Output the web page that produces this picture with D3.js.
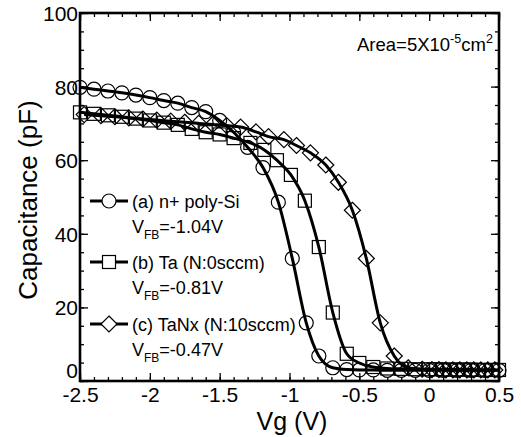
<!DOCTYPE html>
<html><head><meta charset="utf-8">
<script src="https://cdn.jsdelivr.net/npm/d3@7"></script>
<style>
html,body{margin:0;padding:0;background:#fff;}
svg{display:block;font-family:"Liberation Sans",Arial,sans-serif;}
</style></head>
<body><svg id="c" width="521" height="437"></svg>
<script>
// ---- data ----
const aV = [-2.5,-2.4,-2.3,-2.2,-2.1,-2.0,-1.9,-1.8,-1.7,-1.6,-1.5,-1.4,-1.3,-1.19,-1.08,-0.98,-0.88,-0.79,-0.69,-0.59,-0.5,-0.4,-0.3,-0.2,-0.1,0,0.1,0.2,0.3,0.4,0.5];
const aC = [79.8,79.3,78.8,78.3,77.7,77.0,76.2,75.5,74.3,73.2,70.8,67.6,63.5,58.0,48.6,33.3,15.8,6.8,3.6,3.1,3.0,3.0,2.9,2.9,2.9,2.9,2.9,2.9,2.9,2.9,2.9];

const bV = [-2.5,-2.4,-2.3,-2.2,-2.1,-2.0,-1.9,-1.8,-1.7,-1.6,-1.5,-1.4,-1.28,-1.18,-1.09,-0.99,-0.89,-0.79,-0.69,-0.59,-0.5,-0.4,-0.3,-0.2,-0.1,0,0.05,0.1,0.15,0.2,0.25,0.3,0.35,0.4,0.45,0.5];
const bC = [73.0,72.6,72.2,71.8,71.3,70.8,70.2,69.6,68.5,67.6,67.0,66.0,64.7,62.8,60.0,56.0,49.0,36.4,18.6,7.4,4.9,3.8,3.4,3.3,3.2,3.2,3.2,3.1,3.1,3.1,3.1,3.1,3.0,3.0,3.0,3.0];

const cV = [-2.47,-2.35,-2.25,-2.15,-2.05,-1.95,-1.85,-1.75,-1.65,-1.55,-1.45,-1.35,-1.24,-1.15,-1.04,-0.95,-0.85,-0.74,-0.65,-0.55,-0.45,-0.35,-0.25,-0.15,-0.05,0.02,0.07,0.12,0.17,0.22,0.27,0.32,0.37,0.42,0.47];
const cC = [72.4,72.1,71.8,71.5,71.2,70.9,70.6,70.3,70.0,69.7,69.4,69.0,67.7,66.4,65.6,64.0,62.0,58.7,54.0,46.4,33.3,15.8,6.8,3.6,3.2,3.1,3.1,3.0,3.0,3.0,3.0,3.0,3.0,3.0,3.0];

const seriesNames = ["(a) n+ poly-Si","(b) Ta (N:0sccm)","(c) TaNx (N:10sccm)"];
const vfbLabels = ["=-1.04V","=-0.81V","=-0.47V"];
const xTickVals = [-2.5,-2,-1.5,-1,-0.5,0,0.5];
const xTickLabels = ["-2.5","-2","-1.5","-1","-0.5","0","0.5"];
const yTickVals = [0,20,40,60,80,100];
const yTickLabels = ["0","20","40","60","80","100"];

// ---- layout ----
const L=80,R=499,T=13,B=381;
const svg=d3.select("#c");
const x=d3.scaleLinear().domain([-2.5,0.5]).range([L,R]);
const y=d3.scaleLinear().domain([0,100]).range([B,T]);

// minor ticks
const xMinor=d3.range(-2.5,0.5001,0.1).map(v=>+v.toFixed(2));
const yMinor=d3.range(0,100.001,5);

function tickAxis(gen, scale, vals, size, pos, labels){
  const a=gen(scale).tickValues(vals).tickSizeInner(size).tickSizeOuter(0);
  if(labels){ a.tickFormat((d,i)=>labels[i]).tickPadding(0);} else a.tickFormat("");
  const g=svg.append("g").attr("transform",pos).call(a);
  g.select(".domain").remove();
  g.selectAll("line").attr("stroke","#000").attr("stroke-width",1.3);
  return g;
}
// bottom
tickAxis(d3.axisBottom,x,xMinor,-4,`translate(0,${B})`);
const gxb=tickAxis(d3.axisBottom,x,xTickVals,-8,`translate(0,${B})`,xTickLabels);
gxb.selectAll("text").attr("font-size",21).attr("fill","#000").attr("y",21).attr("dy",0);
// top
tickAxis(d3.axisTop,x,xMinor,-4,`translate(0,${T})`);
tickAxis(d3.axisTop,x,xTickVals,-8,`translate(0,${T})`);
// left
tickAxis(d3.axisLeft,y,yMinor,-4,`translate(${L},0)`);
const gyl=tickAxis(d3.axisLeft,y,yTickVals,-8,`translate(${L},0)`,yTickLabels);
gyl.selectAll("text").attr("font-size",21).attr("fill","#000").attr("x",-2)
  .attr("dy",d=>d===0?"-0.16em":"0.36em");
// right
tickAxis(d3.axisRight,y,yMinor,-4,`translate(${R},0)`);
tickAxis(d3.axisRight,y,yTickVals,-8,`translate(${R},0)`);

// frame
svg.append("rect").attr("x",L).attr("y",T).attr("width",R-L).attr("height",B-T)
  .attr("fill","none").attr("stroke","#000").attr("stroke-width",2.6);

// ---- series ----
const series=[
  {v:aV,c:aC,shape:"circle"},
  {v:bV,c:bC,shape:"square"},
  {v:cV,c:cC,shape:"diamond"}
];
const line=d3.line().x(d=>x(d[0])).y(d=>y(d[1])).curve(d3.curveMonotoneX);
function marker(g,shape,cx,cy){
  if(shape==="circle") g.append("circle").attr("cx",cx).attr("cy",cy).attr("r",7);
  else if(shape==="square") g.append("rect").attr("x",cx-6.5).attr("y",cy-6.5).attr("width",13).attr("height",13);
  else g.append("path").attr("d",`M${cx},${cy-8}L${cx+8},${cy}L${cx},${cy+8}L${cx-8},${cy}Z`);
}
series.forEach(s=>{
  const pts=s.v.map((v,i)=>[v,s.c[i]]);
  const g=svg.append("g").attr("fill","none").attr("stroke","#000").attr("stroke-width",1.2);
  pts.forEach(p=>marker(g,s.shape,x(p[0]),y(p[1])));
  svg.append("path").datum(pts).attr("d",line).attr("fill","none")
    .attr("stroke","#000").attr("stroke-width",3);
});

// ---- legend ----
const legY=[201,262,324];
seriesNames.forEach((name,i)=>{
  const ly=legY[i];
  svg.append("line").attr("x1",90).attr("x2",128).attr("y1",ly).attr("y2",ly)
    .attr("stroke","#000").attr("stroke-width",3);
  const g=svg.append("g").attr("fill","#fff").attr("stroke","#000").attr("stroke-width",1.2);
  marker(g,series[i].shape,109,ly);
  svg.append("text").attr("x",132).attr("y",ly+6.5).attr("font-size",18).text(name);
  const t=svg.append("text").attr("x",132).attr("y",ly+32).attr("font-size",18);
  t.append("tspan").text("V");
  t.append("tspan").attr("font-size",12).attr("dy",6).text("FB");
  t.append("tspan").attr("dy",-6).text(vfbLabels[i]);
});

// ---- annotation ----
const at=svg.append("text").attr("x",357).attr("y",51).attr("font-size",18.5);
at.append("tspan").text("Area=5X10");
at.append("tspan").attr("font-size",12.5).attr("dy",-8).text("-5");
at.append("tspan").attr("dy",8).text("cm");
at.append("tspan").attr("font-size",12.5).attr("dy",-8).text("2");

// ---- axis titles ----
svg.append("text").attr("x",292).attr("y",430).attr("text-anchor","middle")
  .attr("font-size",25).text("Vg (V)");
svg.append("text").attr("transform","translate(37,200) rotate(-90)")
  .attr("text-anchor","middle").attr("font-size",26).text("Capacitance (pF)");
</script></body></html>
